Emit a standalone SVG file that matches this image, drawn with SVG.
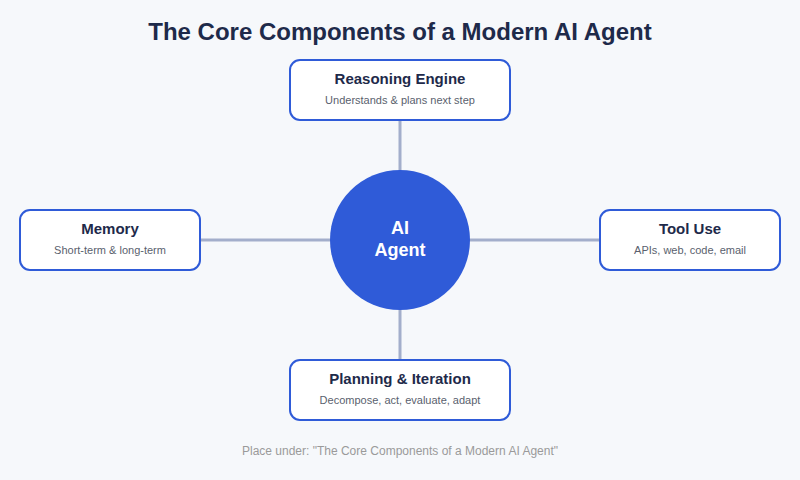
<svg xmlns="http://www.w3.org/2000/svg" width="800" height="480" viewBox="0 0 800 480">
<style>
.box{fill:#ffffff;stroke:#2f5bd8;stroke-width:2}
.t{font-family:"Liberation Sans",Arial,sans-serif;font-weight:bold;font-size:15px;fill:#1e2a4a;text-anchor:middle}
.s{font-family:"Liberation Sans",Arial,sans-serif;font-size:11px;fill:#5a5f6e;text-anchor:middle}
.c{stroke:#a3aecb;stroke-width:3;fill:none}
</style>
<rect width="800" height="480" fill="#f6f8fb"/>
<text x="400" y="40" font-family="Liberation Sans,Arial,sans-serif" font-weight="bold" font-size="24" fill="#1e2a4a" text-anchor="middle">The Core Components of a Modern AI Agent</text>
<g id="connectors">
<line class="c" x1="400" y1="120" x2="400" y2="172"/>
<line class="c" x1="400" y1="308" x2="400" y2="360"/>
<line class="c" x1="200" y1="240" x2="332" y2="240"/>
<line class="c" x1="468" y1="240" x2="600" y2="240"/>
</g>
<g id="reasoning">
<rect class="box" x="290" y="60" width="220" height="60" rx="10"/>
<text class="t" x="400" y="84">Reasoning Engine</text>
<text class="s" x="400" y="104">Understands &amp; plans next step</text>
</g>
<g id="memory">
<rect class="box" x="20" y="210" width="180" height="60" rx="10"/>
<text class="t" x="110" y="234">Memory</text>
<text class="s" x="110" y="254">Short-term &amp; long-term</text>
</g>
<g id="tooluse">
<rect class="box" x="600" y="210" width="180" height="60" rx="10"/>
<text class="t" x="690" y="234">Tool Use</text>
<text class="s" x="690" y="254">APIs, web, code, email</text>
</g>
<g id="planning">
<rect class="box" x="290" y="360" width="220" height="60" rx="10"/>
<text class="t" x="400" y="384">Planning &amp; Iteration</text>
<text class="s" x="400" y="404">Decompose, act, evaluate, adapt</text>
</g>
<g id="agent">
<circle cx="400" cy="240" r="70" fill="#2f5bd8"/>
<text x="400" y="234" font-family="Liberation Sans,Arial,sans-serif" font-weight="bold" font-size="18" fill="#ffffff" text-anchor="middle">AI</text>
<text x="400" y="256" font-family="Liberation Sans,Arial,sans-serif" font-weight="bold" font-size="18" fill="#ffffff" text-anchor="middle">Agent</text>
</g>
<text x="400" y="455" font-family="Liberation Sans,Arial,sans-serif" font-size="12" fill="#9a9a9a" text-anchor="middle">Place under: "The Core Components of a Modern AI Agent"</text>
</svg>
